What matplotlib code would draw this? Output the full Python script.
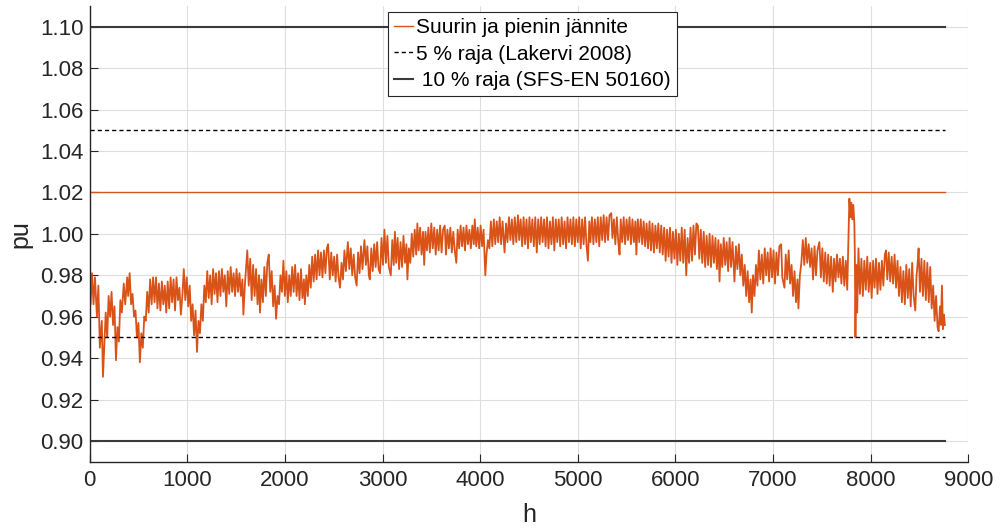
import matplotlib
matplotlib.use('Agg')
import matplotlib.pyplot as plt

plt.rcParams['font.family'] = ['Liberation Sans', 'DejaVu Sans']

# vuoden tunnit ja rajat
vuoden_tunnit = 8760
suurin = 1.02
raja5 = [0.95, 1.05]
raja10 = [0.90, 1.10]

# pienin jännite (pu), luettu kuvasta jaksoittain
t1 = [0, 10, 25, 40, 55, 75, 90, 105, 125, 137,
      150, 165, 180, 195, 210, 225, 240, 255, 270, 285,
      300, 315, 330, 350, 365, 385, 395, 410, 425, 440,
      455, 470, 485, 500, 515, 530, 545, 560, 575, 590,
      605, 620, 635, 650, 665, 680, 695, 710, 725, 740,
      755, 770, 785, 800, 815, 830, 845, 860, 875, 890,
      905, 920, 935, 950, 965, 980, 995, 1010, 1025, 1040,
      1055, 1070, 1085, 1100, 1115, 1130, 1145, 1160, 1175, 1190,
      1205, 1220, 1235, 1250, 1265, 1280, 1295, 1310, 1325, 1340,
      1355, 1370, 1385, 1400, 1415, 1430, 1445, 1460, 1475]
p1 = [0.975, 0.966, 0.981, 0.966, 0.979, 0.960, 0.975, 0.945, 0.958, 0.931,
      0.945, 0.962, 0.950, 0.970, 0.960, 0.972, 0.956, 0.965, 0.939, 0.955,
      0.948, 0.968, 0.962, 0.976, 0.966, 0.979, 0.970, 0.981, 0.966, 0.971,
      0.960, 0.963, 0.950, 0.957, 0.938, 0.952, 0.945, 0.960, 0.958, 0.972,
      0.962, 0.978, 0.966, 0.979, 0.967, 0.979, 0.964, 0.976, 0.963, 0.977,
      0.966, 0.975, 0.962, 0.977, 0.964, 0.979, 0.967, 0.978, 0.963, 0.979,
      0.968, 0.974, 0.961, 0.970, 0.983, 0.968, 0.979, 0.965, 0.975, 0.958,
      0.966, 0.951, 0.963, 0.943, 0.958, 0.952, 0.966, 0.958, 0.975, 0.967,
      0.982, 0.969, 0.980, 0.966, 0.983, 0.971, 0.981, 0.967, 0.982, 0.970,
      0.983, 0.972, 0.980, 0.965, 0.982, 0.971, 0.984, 0.972, 0.981]

t2 = [1490, 1505, 1520, 1535, 1550, 1565, 1575, 1590, 1605, 1615,
      1630, 1645, 1660, 1675, 1690, 1705, 1720, 1735, 1745, 1760,
      1775, 1790, 1805, 1820, 1835, 1850, 1865, 1880, 1895, 1910,
      1925, 1940, 1955, 1970, 1985, 2000, 2015, 2030, 2045, 2060,
      2075, 2090, 2105, 2120, 2135, 2150, 2165, 2180, 2195, 2205,
      2220, 2235, 2250, 2265, 2280, 2295, 2310, 2325, 2340, 2355,
      2370, 2385, 2400, 2415, 2430, 2443, 2460, 2475, 2490, 2505,
      2520, 2535, 2550, 2565, 2580, 2595, 2610, 2625, 2645, 2660,
      2675, 2690, 2705, 2720, 2735, 2750, 2765, 2780, 2795, 2815,
      2830, 2845, 2860, 2870, 2885, 2900, 2915, 2930, 2945, 2960]
p2 = [0.970, 0.983, 0.972, 0.981, 0.970, 0.978, 0.961, 0.975, 0.985, 0.992,
      0.975, 0.988, 0.968, 0.985, 0.970, 0.983, 0.966, 0.980, 0.962, 0.978,
      0.967, 0.984, 0.970, 0.986, 0.990, 0.972, 0.982, 0.965, 0.975, 0.959,
      0.970, 0.966, 0.980, 0.972, 0.987, 0.970, 0.982, 0.967, 0.980, 0.970,
      0.984, 0.972, 0.985, 0.970, 0.981, 0.968, 0.983, 0.969, 0.978, 0.966,
      0.980, 0.970, 0.985, 0.974, 0.989, 0.977, 0.990, 0.978, 0.992, 0.980,
      0.991, 0.979, 0.992, 0.981, 0.993, 0.995, 0.978, 0.991, 0.980, 0.989,
      0.977, 0.990, 0.979, 0.974, 0.986, 0.978, 0.992, 0.982, 0.996, 0.983,
      0.993, 0.980, 0.990, 0.979, 0.975, 0.991, 0.981, 0.994, 0.983, 0.997,
      0.985, 0.994, 0.980, 0.978, 0.993, 0.982, 0.995, 0.984, 0.996, 0.983]

t3 = [2975, 2990, 3005, 3020, 3035, 3050, 3065, 3085, 3100, 3115,
      3127, 3140, 3155, 3170, 3185, 3200, 3215, 3230, 3245, 3255,
      3270, 3285, 3300, 3315, 3330, 3345, 3357, 3370, 3385, 3400,
      3415, 3427, 3440, 3455, 3470, 3485, 3500, 3515, 3530, 3545,
      3560, 3575, 3590, 3605, 3620, 3637, 3650, 3665, 3680, 3695,
      3710, 3725, 3740, 3756, 3770, 3785, 3800, 3815, 3830, 3845,
      3860, 3875, 3890, 3905, 3920, 3935, 3945, 3960, 3975, 3990,
      4005, 4020, 4035, 4053, 4065, 4080, 4095, 4110, 4125, 4140,
      4155, 4170, 4185, 4200, 4215, 4230, 4250, 4265, 4280, 4295,
      4310, 4325, 4340, 4355, 4370, 4387, 4400, 4415, 4430]
p3 = [0.981, 0.998, 0.985, 1.002, 0.986, 0.999, 0.984, 0.980, 0.997, 0.985,
      1.001, 0.986, 0.998, 0.983, 0.996, 0.984, 0.999, 0.986, 0.995, 0.978,
      0.993, 0.986, 1.000, 0.989, 1.002, 0.990, 1.005, 0.992, 1.003, 0.990,
      1.001, 0.985, 1.001, 0.992, 1.003, 0.991, 1.005, 0.993, 1.003, 0.990,
      1.002, 0.992, 1.004, 0.991, 1.002, 1.004, 0.990, 1.002, 0.993, 1.003,
      0.991, 1.001, 0.992, 0.986, 1.002, 0.993, 1.004, 0.994, 1.003, 0.992,
      1.004, 0.995, 1.002, 0.993, 1.004, 0.995, 1.007, 0.994, 1.003, 0.993,
      1.004, 0.994, 1.002, 0.980, 0.990, 0.997, 0.993, 1.006, 0.994, 1.007,
      0.995, 1.006, 0.996, 1.008, 0.995, 1.006, 0.991, 1.005, 0.996, 1.008,
      0.997, 1.007, 0.995, 1.008, 0.996, 1.009, 0.997, 1.007, 0.994]

t4 = [4445, 4460, 4475, 4490, 4505, 4520, 4535, 4550, 4565, 4580,
      4595, 4610, 4625, 4640, 4655, 4670, 4685, 4700, 4715, 4730,
      4745, 4760, 4775, 4790, 4805, 4820, 4835, 4850, 4865, 4880,
      4895, 4910, 4925, 4940, 4955, 4970, 4985, 5000, 5015, 5030,
      5045, 5060, 5075, 5090, 5104, 5118, 5130, 5145, 5160, 5175,
      5190, 5205, 5220, 5235, 5250, 5265, 5280, 5295, 5310, 5325,
      5343, 5355, 5370, 5385, 5400, 5415, 5428, 5440, 5455, 5470,
      5485, 5500, 5515, 5530, 5545, 5560, 5575, 5590, 5600, 5615,
      5630, 5645, 5660, 5675, 5690, 5705, 5720, 5735, 5750, 5765,
      5780, 5795, 5810, 5825, 5840, 5855, 5870, 5885]
p4 = [1.008, 0.995, 1.007, 0.993, 1.008, 0.996, 1.007, 0.994, 1.008, 0.991,
      1.007, 0.995, 1.008, 0.996, 1.007, 0.994, 1.008, 0.993, 1.006, 0.995,
      1.008, 0.992, 1.007, 0.996, 1.007, 0.994, 1.008, 0.995, 1.006, 0.993,
      1.008, 0.996, 1.007, 0.995, 1.008, 0.994, 1.007, 0.996, 1.008, 0.993,
      1.007, 0.995, 1.008, 0.994, 0.987, 1.006, 0.996, 1.008, 0.995, 1.007,
      0.996, 1.008, 0.994, 1.008, 0.997, 1.009, 0.996, 1.008, 0.997, 1.009,
      1.010, 0.998, 1.007, 0.995, 1.008, 0.996, 0.990, 1.007, 0.996, 1.008,
      0.995, 1.007, 0.997, 1.008, 0.995, 1.007, 0.996, 1.006, 0.990, 1.007,
      0.996, 1.007, 0.995, 1.006, 0.994, 1.005, 0.993, 1.006, 0.992, 1.005,
      0.991, 1.004, 0.993, 1.005, 0.991, 1.004, 0.990, 1.003]

t5 = [5900, 5915, 5930, 5945, 5960, 5975, 5990, 6005, 6020, 6035,
      6050, 6065, 6080, 6095, 6111, 6125, 6140, 6155, 6170, 6185,
      6200, 6215, 6230, 6245, 6260, 6275, 6290, 6305, 6320, 6335,
      6350, 6365, 6380, 6395, 6410, 6425, 6440, 6452, 6465, 6480,
      6495, 6510, 6525, 6540, 6555, 6570, 6585, 6605, 6620, 6635,
      6650, 6665, 6680, 6695, 6710, 6725, 6740, 6755, 6770, 6782,
      6795, 6810, 6825, 6840, 6855, 6870, 6885, 6900, 6915, 6930,
      6945, 6960, 6975, 6990, 7005, 7020, 7035, 7050, 7065, 7083,
      7095, 7117, 7130, 7145, 7160, 7175, 7190, 7205, 7220, 7235,
      7250, 7260, 7275, 7290, 7305, 7320, 7335, 7350, 7365, 7380]
p5 = [0.987, 1.002, 0.989, 1.003, 0.986, 1.001, 0.988, 1.002, 0.985, 1.000,
      0.987, 1.003, 0.986, 1.002, 0.980, 0.998, 0.986, 1.003, 0.987, 1.004,
      0.990, 1.005, 1.004, 0.988, 1.002, 0.986, 1.001, 0.984, 0.999, 0.985,
      1.000, 0.984, 0.999, 0.986, 0.998, 0.983, 0.997, 0.977, 0.995, 0.984,
      0.998, 0.985, 0.996, 0.982, 0.998, 0.984, 0.996, 0.977, 0.994, 0.983,
      0.995, 0.980, 0.990, 0.975, 0.985, 0.970, 0.982, 0.967, 0.978, 0.962,
      0.980, 0.970, 0.985, 0.975, 0.992, 0.978, 0.990, 0.976, 0.993, 0.980,
      0.991, 0.977, 0.993, 0.979, 0.992, 0.976, 0.991, 0.980, 0.994, 0.995,
      0.979, 0.974, 0.990, 0.978, 0.992, 0.976, 0.985, 0.970, 0.982, 0.967,
      0.978, 0.964, 0.980, 0.986, 0.997, 0.985, 0.998, 0.986, 0.995, 0.984]

t6 = [7395, 7410, 7425, 7440, 7455, 7475, 7490, 7505, 7520, 7535,
      7550, 7565, 7580, 7595, 7612, 7625, 7640, 7655, 7670, 7685,
      7700, 7715, 7730, 7745, 7760, 7772, 7782, 7792, 7802, 7812,
      7822, 7833, 7838, 7844, 7852, 7862, 7875, 7890, 7905, 7920,
      7935, 7950, 7965, 7980, 7995, 8010, 8025, 8040, 8055, 8070,
      8085, 8100, 8115, 8130, 8145, 8157, 8170, 8185, 8200, 8215,
      8230, 8245, 8260, 8275, 8290, 8305, 8320, 8335, 8350, 8365,
      8380, 8395, 8410, 8425, 8440, 8457, 8470, 8480, 8491, 8505,
      8520, 8535, 8550, 8565, 8580, 8595, 8610, 8625, 8640, 8655,
      8670, 8685, 8696, 8710, 8720, 8730, 8740, 8750, 8760]
p6 = [0.993, 0.978, 0.994, 0.980, 0.992, 0.996, 0.979, 0.993, 0.977, 0.991,
      0.976, 0.990, 0.975, 0.989, 0.972, 0.988, 0.977, 0.990, 0.979, 0.988,
      0.976, 0.989, 0.975, 0.987, 0.973, 0.996, 1.017, 1.008, 1.015, 1.007,
      1.014, 1.005, 0.990, 0.950, 0.985, 0.962, 0.993, 0.971, 0.988, 0.970,
      0.987, 0.973, 0.989, 0.972, 0.986, 0.969, 0.987, 0.974, 0.988, 0.971,
      0.986, 0.973, 0.987, 0.975, 0.990, 0.992, 0.978, 0.991, 0.977, 0.989,
      0.976, 0.990, 0.974, 0.987, 0.970, 0.984, 0.967, 0.982, 0.966, 0.985,
      0.969, 0.983, 0.965, 0.986, 0.970, 0.963, 0.980, 0.985, 0.993, 0.972,
      0.988, 0.970, 0.987, 0.968, 0.986, 0.967, 0.984, 0.964, 0.975, 0.958,
      0.970, 0.955, 0.953, 0.965, 0.956, 0.975, 0.954, 0.961, 0.956]

tunnit = t1 + t2 + t3 + t4 + t5 + t6
pienin = p1 + p2 + p3 + p4 + p5 + p6

oranssi = '#D95319'
harmaa = '#3a3a3a'
teksti = '#262626'

fig = plt.figure(figsize=(10, 5.29), dpi=100)
ax = fig.add_axes([0.0896, 0.1272, 0.8787, 0.8615])

ax.plot([0, vuoden_tunnit], [suurin, suurin], color=oranssi, lw=1.0,
        label='Suurin ja pienin jännite')
ax.plot(tunnit, pienin, color=oranssi, lw=1.3)
for i, r in enumerate(raja5):
    ax.plot([0, vuoden_tunnit], [r, r], color='k', lw=1.0, dashes=(3, 2.2),
            label='5 % raja (Lakervi 2008)' if i == 0 else None)
for i, r in enumerate(raja10):
    ax.plot([0, vuoden_tunnit], [r, r], color=harmaa, lw=1.5,
            label=' 10 % raja (SFS-EN 50160)' if i == 0 else None)

ax.set_xlim(0, 9000)
ax.set_ylim(0.89, 1.11)
ax.set_xticks(range(0, 9001, 1000))
yt = [0.90, 0.92, 0.94, 0.96, 0.98, 1.00, 1.02, 1.04, 1.06, 1.08, 1.10]
ax.set_yticks(yt)
ax.set_yticklabels(['%.2f' % v for v in yt])

ax.grid(True, color='#dedede', lw=0.8)
ax.set_axisbelow(True)
for s in ['top', 'right']:
    ax.spines[s].set_visible(False)
for s in ['left', 'bottom']:
    ax.spines[s].set_color(teksti)
    ax.spines[s].set_linewidth(1.0)
ax.tick_params(direction='in', length=6, width=0.8, colors=teksti, labelsize=16)
ax.tick_params(axis='y', pad=4.5)
ax.tick_params(axis='x', pad=6)

ax.set_ylabel('pu', fontsize=18, color=teksti)
ax.yaxis.set_label_coords(-0.065, 0.5)
ax.set_xlabel('h', fontsize=18, color=teksti)
ax.xaxis.set_label_coords(0.5, -0.09)

leg = ax.legend(loc='upper left', bbox_to_anchor=(0.3396, 0.9868), borderaxespad=0,
                fontsize=15, frameon=True, fancybox=False, framealpha=1,
                edgecolor=teksti, handlelength=0.9, handletextpad=0.15,
                labelspacing=0.35, borderpad=0.3)
leg.get_frame().set_linewidth(0.8)

fig.savefig('out.png', dpi=100)
